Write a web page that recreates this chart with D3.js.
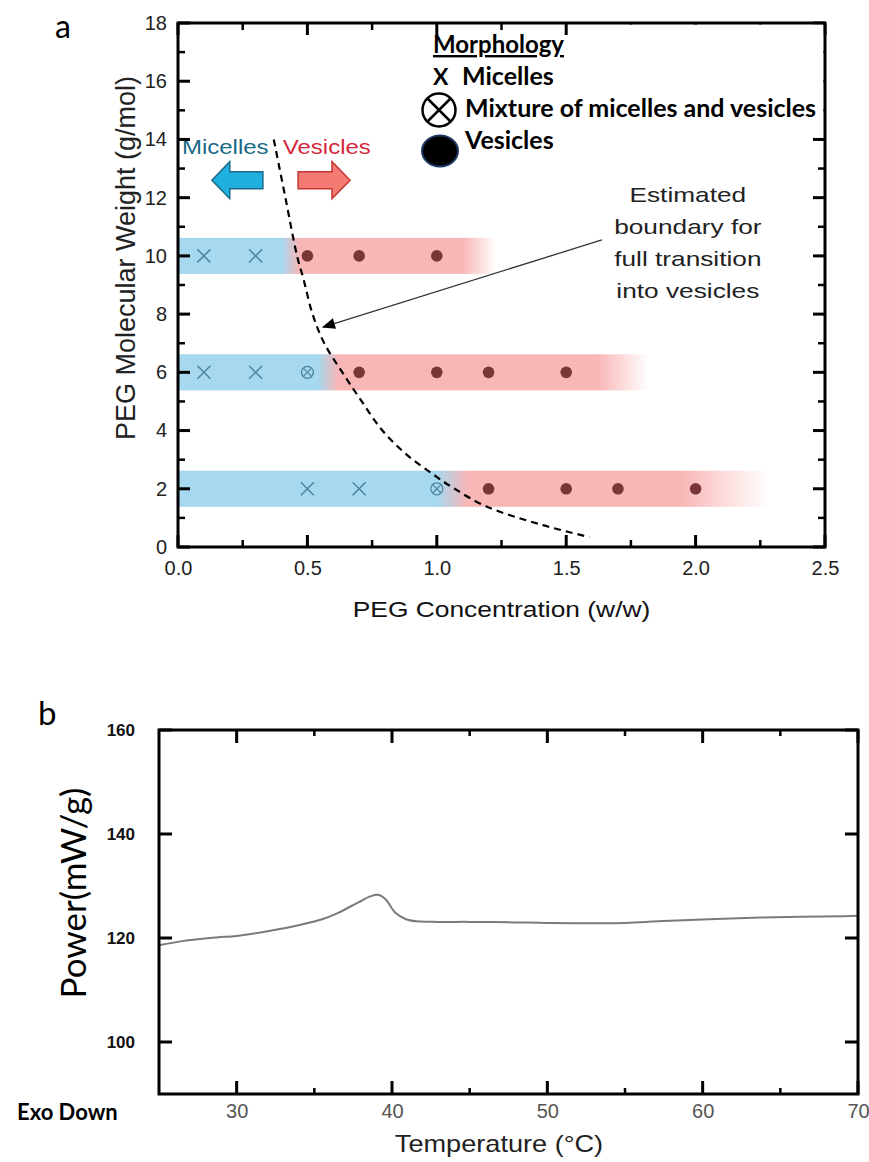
<!DOCTYPE html>
<html lang="en">
<head>
<meta charset="utf-8">
<title>PEG morphology and DSC</title>
<script src="https://cdnjs.cloudflare.com/ajax/libs/d3/7.8.5/d3.min.js"></script>
<style>
  body { margin: 0; background: #fff; }
  svg text { font-family: "Liberation Sans", Arial, sans-serif; }
  .cal { font-family: Lato, "Open Sans", sans-serif; }
  .frame { fill: none; stroke: #000; stroke-width: 3; }
</style>
</head>
<body>
<div id="chart"></div>
<script>
"use strict"

// ---- panel a : morphology map ----
var mwLevels  = [10, 6, 2];          // PEG molecular weight of each row
var blueEnd   = [0.40, 0.54, 1.00];  // micelle region ends
var redStart  = [0.47, 0.62, 1.12];  // vesicle region starts
var fadeStart = [1.10, 1.62, 1.94];
var fadeEnd   = [1.23, 1.82, 2.28];

var micelleConc = [0.1, 0.3, 0.1, 0.3, 0.5, 0.7];
var micelleMW   = [10, 10, 6, 6, 2, 2];
var mixConc = [0.5, 1.0];
var mixMW   = [6, 2];
var vesicleConc = [0.5, 0.7, 1.0, 0.7, 1.0, 1.2, 1.5, 1.2, 1.5, 1.7, 2.0];
var vesicleMW   = [10, 10, 10, 6, 6, 6, 6, 2, 2, 2, 2];

var boundaryConc = [0.37, 0.415, 0.46, 0.485, 0.52, 0.565, 0.635, 0.71, 0.79, 0.88, 0.985, 1.06, 1.19, 1.41, 1.59];
var boundaryMW   = [14.0, 12.0, 10.0, 9.2, 8.0, 7.0, 6.0, 5.0, 4.0, 3.2, 2.5, 2.05, 1.4, 0.75, 0.34];

var concTicks = [0, 0.5, 1.0, 1.5, 2.0, 2.5];
var concMinor = [0.25, 0.75, 1.25, 1.75, 2.25];
var mwTicks = [0, 2, 4, 6, 8, 10, 12, 14, 16, 18];
var mwMinor = [1, 3, 5, 7, 9, 11, 13, 15, 17];

var legendLabels = ["Micelles", "Mixture of micelles and vesicles", "Vesicles"];
var noteLines = ["Estimated", "boundary for", "full transition", "into vesicles"];

// ---- panel b : DSC trace ----
var tempC   = [25, 26.5, 28.7, 30, 32, 34.2, 35.5, 36.5, 37.8, 38.6, 39.1, 39.6, 40.2, 40.9, 41.6, 43, 45, 47.9, 50, 55, 57.1, 60.4, 64.6, 69.1, 70];
var powerMW = [118.6, 119.4, 120.1, 120.4, 121.3, 122.6, 123.6, 124.8, 126.8, 128.0, 128.3, 127.4, 124.9, 123.6, 123.2, 123.1, 123.1, 123.0, 122.9, 122.9, 123.2, 123.6, 124.0, 124.2, 124.3];
var tempTicks = [30, 40, 50, 60, 70];
var tempMinor = [35, 45, 55, 65];
var powerTicks = [100, 120, 140, 160];

var blue = "#a6d8ef", red = "#f9b6b6", teal = "#4a879e", wine = "#7a3636";

var svg = d3.select("#chart").append("svg").attr("width", 869).attr("height", 1162);
var defs = svg.append("defs");

// tick labels from d3 axis
function axisLabels(g, axis, values, fmt, pad) {
  axis.tickValues(values).tickSize(0).tickPadding(pad).tickFormat(fmt);
  g.call(axis);
  g.select(".domain").remove();
  return g.selectAll(".tick text");
}
// inward tick marks
function hTicks(parent, scale, values, y0, len, w) {
  parent.append("g").selectAll("line").data(values).enter().append("line")
    .attr("x1", function(d) { return scale(d); }).attr("x2", function(d) { return scale(d); })
    .attr("y1", y0).attr("y2", y0 + len)
    .attr("stroke", "#000").attr("stroke-width", w || 3);
}
function vTicks(parent, scale, values, x0, len, w) {
  parent.append("g").selectAll("line").data(values).enter().append("line")
    .attr("y1", function(d) { return scale(d); }).attr("y2", function(d) { return scale(d); })
    .attr("x1", x0).attr("x2", x0 + len)
    .attr("stroke", "#000").attr("stroke-width", w || 3);
}

/* ================= panel a ================= */
var pa = {left: 178, right: 825, top: 23, bottom: 547};
var xA = d3.scaleLinear().domain([0, 2.5]).range([pa.left, pa.right]);
var yA = d3.scaleLinear().domain([0, 18]).range([pa.bottom, pa.top]);
var gA = svg.append("g");

// coloured bands with gradient transitions
mwLevels.forEach(function(mw, i) {
  var x0 = xA(0), x1 = xA(fadeEnd[i]), span = x1 - x0;
  var grad = defs.append("linearGradient").attr("id", "band" + i)
    .attr("gradientUnits", "userSpaceOnUse")
    .attr("x1", x0).attr("x2", x1).attr("y1", 0).attr("y2", 0);
  var stops = [[0, blue, 1], [(xA(blueEnd[i]) - x0) / span, blue, 1],
               [(xA(redStart[i]) - x0) / span, red, 1], [(xA(fadeStart[i]) - x0) / span, red, 1],
               [1, red, 0]];
  stops.forEach(function(s) {
    grad.append("stop").attr("offset", s[0]).attr("stop-color", s[1]).attr("stop-opacity", s[2]);
  });
  gA.append("rect")
    .attr("x", x0).attr("width", span)
    .attr("y", yA(mw + 0.62)).attr("height", yA(mw - 0.62) - yA(mw + 0.62))
    .attr("fill", "url(#band" + i + ")");
});

// micelles
micelleConc.forEach(function(c, i) {
  var cx = xA(c), cy = yA(micelleMW[i]), r = 6.5;
  gA.append("path")
    .attr("d", "M" + (cx - r) + "," + (cy - r) + "L" + (cx + r) + "," + (cy + r) +
               "M" + (cx - r) + "," + (cy + r) + "L" + (cx + r) + "," + (cy - r))
    .attr("stroke", teal).attr("stroke-width", 1.5);
});
// mixtures
mixConc.forEach(function(c, i) {
  var cx = xA(c), cy = yA(mixMW[i]), r = 6, k = 4.2;
  gA.append("circle").attr("cx", cx).attr("cy", cy).attr("r", r)
    .attr("fill", "none").attr("stroke", teal).attr("stroke-width", 1.3);
  gA.append("path")
    .attr("d", "M" + (cx - k) + "," + (cy - k) + "L" + (cx + k) + "," + (cy + k) +
               "M" + (cx - k) + "," + (cy + k) + "L" + (cx + k) + "," + (cy - k))
    .attr("stroke", teal).attr("stroke-width", 1.2);
});
// vesicles
gA.selectAll(".ves").data(vesicleConc).enter().append("circle")
  .attr("cx", function(d) { return xA(d); })
  .attr("cy", function(d, i) { return yA(vesicleMW[i]); })
  .attr("r", 5.8).attr("fill", wine);

// estimated boundary
var boundary = boundaryConc.map(function(c, i) { return [c, boundaryMW[i]]; });
gA.append("path").datum(boundary)
  .attr("d", d3.line().x(function(d) { return xA(d[0]); }).y(function(d) { return yA(d[1]); })
    .curve(d3.curveCatmullRom.alpha(0.5)))
  .attr("fill", "none").attr("stroke", "#000").attr("stroke-width", 2.2)
  .attr("stroke-dasharray", "7,5");

// arrows Micelles <- | -> Vesicles
function blockArrow(tipC, baseC, backC, mw) {
  var tx = xA(tipC), hx = xA(baseC), bx = xA(backC), cy = yA(mw);
  return "M" + tx + "," + cy + "L" + hx + "," + (cy - 18.5) + "L" + hx + "," + (cy - 8.5) +
         "L" + bx + "," + (cy - 8.5) + "L" + bx + "," + (cy + 8.5) + "L" + hx + "," + (cy + 8.5) +
         "L" + hx + "," + (cy + 18.5) + "Z";
}
gA.append("path").attr("d", blockArrow(0.131, 0.2, 0.328, 12.6))
  .attr("fill", "#1fb0e0").attr("stroke", "#1b6a8a").attr("stroke-width", 1.5);
gA.append("path").attr("d", blockArrow(0.665, 0.595, 0.464, 12.6))
  .attr("fill", "#f47b73").attr("stroke", "#c33632").attr("stroke-width", 1.5);

gA.append("text").text("Micelles")
  .attr("transform", "translate(" + xA(0.35) + "," + yA(13.5) + ") scale(1.2,1)")
  .attr("text-anchor", "end").attr("font-size", 20).attr("fill", "#1a6a86");
gA.append("text").text("Vesicles")
  .attr("transform", "translate(" + xA(0.405) + "," + yA(13.5) + ") scale(1.2,1)")
  .attr("font-size", 20).attr("fill", "#d6283e");

// annotation with arrow
defs.append("marker").attr("id", "head").attr("markerUnits", "userSpaceOnUse")
  .attr("viewBox", "0 0 12 10").attr("refX", 11).attr("refY", 5)
  .attr("markerWidth", 14).attr("markerHeight", 11).attr("orient", "auto")
  .append("path").attr("d", "M0,0L12,5L0,10Z").attr("fill", "#000");
gA.append("line")
  .attr("x1", xA(1.638)).attr("y1", yA(10.55)).attr("x2", xA(0.56)).attr("y2", yA(7.55))
  .attr("stroke", "#333").attr("stroke-width", 1.3).attr("marker-end", "url(#head)");
var note = gA.append("g")
  .attr("transform", "translate(" + xA(1.97) + "," + yA(11.85) + ") scale(1.25,1)");
note.selectAll("text").data(noteLines).enter().append("text")
  .attr("y", function(d, i) { return i * 32; })
  .attr("text-anchor", "middle").attr("font-size", 21).attr("fill", "#222")
  .text(function(d) { return d; });

// axes
axisLabels(gA.append("g").attr("transform", "translate(0," + pa.bottom + ")"),
  d3.axisBottom(xA), concTicks, d3.format(".1f"), 14)
  .attr("font-size", 20).attr("fill", "#222").attr("font-family", "Liberation Sans");
axisLabels(gA.append("g").attr("transform", "translate(" + pa.left + ",0)"),
  d3.axisLeft(yA), mwTicks, d3.format("d"), 11)
  .attr("font-size", 20).attr("fill", "#222").attr("font-family", "Liberation Sans");
hTicks(gA, xA, concTicks, pa.bottom, -12);
hTicks(gA, xA, concMinor, pa.bottom, -7, 2.5);
hTicks(gA, xA, concTicks, pa.top, 12);
hTicks(gA, xA, concMinor, pa.top, 7, 2.5);
vTicks(gA, yA, mwTicks, pa.left, 12);
vTicks(gA, yA, mwMinor, pa.left, 7, 2.5);
vTicks(gA, yA, mwTicks, pa.right, -12);
vTicks(gA, yA, mwMinor, pa.right, -7, 2.5);

// legend (white box over the upper right corner)
var lg = gA.append("g");
lg.append("rect").attr("x", 580).attr("y", pa.top + 1.5).attr("width", pa.right - 581.5).attr("height", 104)
  .attr("fill", "#fff");
lg.append("text").attr("x", 433).attr("y", 53).text("Morphology")
  .attr("class", "cal").attr("font-weight", "bold").attr("font-size", 24)
  .attr("text-decoration", "underline");
lg.append("text").attr("x", 433).attr("y", 85).text("X")
  .attr("class", "cal").attr("font-weight", "bold").attr("font-size", 23);
lg.append("circle").attr("cx", 439).attr("cy", 110).attr("r", 16.5)
  .attr("fill", "none").attr("stroke", "#000").attr("stroke-width", 2.5);
lg.append("path").attr("d", "M427.5,98.5L450.5,121.5M427.5,121.5L450.5,98.5")
  .attr("stroke", "#000").attr("stroke-width", 2.5);
lg.append("ellipse").attr("cx", 440).attr("cy", 151).attr("rx", 18).attr("ry", 15.5)
  .attr("fill", "#000").attr("stroke", "#1f3864").attr("stroke-width", 2);
lg.selectAll(".lt").data(legendLabels).enter().append("text")
  .attr("class", "cal").attr("font-weight", "bold").attr("font-size", 25)
  .attr("x", function(d, i) { return i === 0 ? 462 : 465; })
  .attr("y", function(d, i) { return 85 + i * 32; })
  .text(function(d) { return d; });

gA.append("rect").attr("class", "frame")
  .attr("x", pa.left).attr("y", pa.top).attr("width", pa.right - pa.left).attr("height", pa.bottom - pa.top);

gA.append("text").text("PEG Concentration (w/w)")
  .attr("transform", "translate(" + (pa.left + pa.right) / 2 + ",617) scale(1.2,1)")
  .attr("text-anchor", "middle").attr("font-size", 22).attr("fill", "#111");
gA.append("text").text("PEG Molecular Weight (g/mol)")
  .attr("transform", "translate(135,258) rotate(-90)")
  .attr("text-anchor", "middle").attr("font-size", 27).attr("fill", "#222");
svg.append("text").attr("class", "cal").attr("x", 55).attr("y", 38).attr("font-size", 32).text("a");

/* ================= panel b ================= */
var pb = {left: 159, right: 858, top: 730, bottom: 1094};
var xB = d3.scaleLinear().domain([25, 70]).range([pb.left, pb.right]);
var yB = d3.scaleLinear().domain([90, 160]).range([pb.bottom, pb.top]);
var gB = svg.append("g");

var dsc = tempC.map(function(t, i) { return [t, powerMW[i]]; });
gB.append("path").datum(dsc)
  .attr("d", d3.line().x(function(d) { return xB(d[0]); }).y(function(d) { return yB(d[1]); })
    .curve(d3.curveCatmullRom.alpha(0.5)))
  .attr("fill", "none").attr("stroke", "#7a7a7a").attr("stroke-width", 2);

axisLabels(gB.append("g").attr("transform", "translate(0," + pb.bottom + ")"),
  d3.axisBottom(xB), tempTicks, d3.format("d"), 10)
  .attr("font-size", 20).attr("fill", "#555").attr("font-family", "Liberation Sans");
axisLabels(gB.append("g").attr("transform", "translate(" + pb.left + ",0)"),
  d3.axisLeft(yB), powerTicks, d3.format("d"), 24)
  .attr("font-size", 17).attr("font-weight", "bold").attr("font-family", "Lato").attr("fill", "#111");
hTicks(gB, xB, tempTicks, pb.bottom, -13);
hTicks(gB, xB, tempMinor, pb.bottom, -6, 2.5);
hTicks(gB, xB, tempTicks, pb.top, 13);
hTicks(gB, xB, tempMinor, pb.top, 6, 2.5);
vTicks(gB, yB, powerTicks, pb.left, 13);
vTicks(gB, yB, powerTicks, pb.right, -13);

gB.append("rect").attr("class", "frame")
  .attr("x", pb.left).attr("y", pb.top).attr("width", pb.right - pb.left).attr("height", pb.bottom - pb.top);

gB.append("text").text("Temperature (°C)")
  .attr("transform", "translate(" + 499 + ",1152) scale(1.18,1)")
  .attr("text-anchor", "middle").attr("font-size", 23).attr("fill", "#222");
gB.append("text").attr("class", "cal").text("Power(mW/g)")
  .attr("transform", "translate(86,893) rotate(-90)")
  .attr("text-anchor", "middle").attr("font-size", 35);
gB.append("text").attr("class", "cal").text("Exo Down")
  .attr("x", 17).attr("y", 1120).attr("font-size", 22).attr("font-weight", "bold");
svg.append("text").attr("class", "cal").attr("x", 38).attr("y", 725).attr("font-size", 33).text("b");
</script>
</body>
</html>
